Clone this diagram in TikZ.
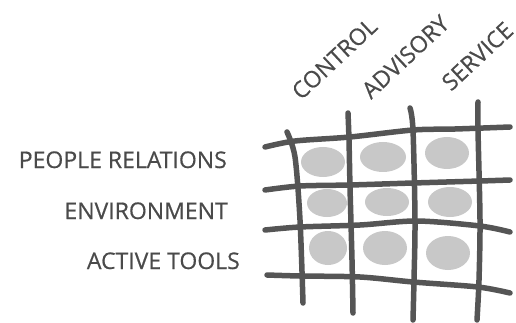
\documentclass[tikz,border=0pt]{standalone}
\usepackage{fontspec}
\setmainfont{Open Sans}
\definecolor{ink}{HTML}{555555}
\definecolor{blob}{HTML}{C8C8C8}
\definecolor{txt}{HTML}{4A4A4A}
\tikzset{
  gridline/.style={draw=ink, line width=5.5pt, line cap=round, line join=round},
  cell/.style={fill=blob, draw=none},
  rowlab/.style={text=txt, font=\fontsize{23}{23}\selectfont\addfontfeature{FakeBold=0.5}, inner sep=0pt, anchor=base east},
  collab/.style={text=txt, font=\fontsize{23}{23}\selectfont\addfontfeature{FakeBold=0.5}, inner sep=0pt, rotate=43, anchor=base west},
}
\begin{document}
\begin{tikzpicture}[x=1pt,y=-1pt]
\useasboundingbox (0,0) rectangle (516,323);
\clip (0,0) rectangle (516,323);
% cells
\fill[cell] (323,162) ellipse [x radius=22, y radius=15];
\fill[cell] (383,157) ellipse [x radius=23, y radius=15];
\fill[cell] (447,153) ellipse [x radius=22, y radius=16];
\fill[cell] (327,203) ellipse [x radius=20, y radius=14];
\fill[cell] (387,202) ellipse [x radius=22, y radius=14];
\fill[cell] (450,202) ellipse [x radius=22, y radius=15];
\fill[cell] (328,248) ellipse [x radius=19, y radius=17];
\fill[cell] (385,248) ellipse [x radius=22, y radius=17];
\fill[cell] (448,253) ellipse [x radius=22, y radius=17];
% horizontal lines
\draw[gridline] plot[smooth] coordinates {(265,147) (295,141) (350,137) (413,130) (455,129) (510,127)};
\draw[gridline] plot[smooth] coordinates {(265,190) (300,186) (350,185) (413,183) (480,181) (510,180)};
\draw[gridline] plot[smooth] coordinates {(265,230) (300,227) (360,225) (417,221) (480,226) (510,232)};
\draw[gridline] plot[smooth] coordinates {(267,275) (300,276) (360,277) (413,282) (478,287) (510,293)};
% vertical lines
\draw[gridline] plot[smooth] coordinates {(287,132) (295,157) (300,220) (303,303)};
\draw[gridline] plot[smooth] coordinates {(348,113) (349,140) (350,187) (352,260) (353,313)};
\draw[gridline] plot[smooth] coordinates {(410,108) (413,130) (415,220) (414,280) (413,320)};
\draw[gridline] plot[smooth] coordinates {(478,102) (478,130) (480,220) (479,280) (477,320)};
% row labels
\node[rowlab] (r1) at (227,168) {PEOPLE RELATIONS};
\node[rowlab] (r2) at (228,219) {ENVIRONMENT};
\node[rowlab] (r3) at (240,269) {ACTIVE TOOLS};
% column labels
\node[collab] (c1) at (301,101) {CONTROL};
\node[collab] (c2) at (371,100) {ADVISORY};
\node[collab] (c3) at (451,92) {SERVICE};
\end{tikzpicture}
\end{document}
